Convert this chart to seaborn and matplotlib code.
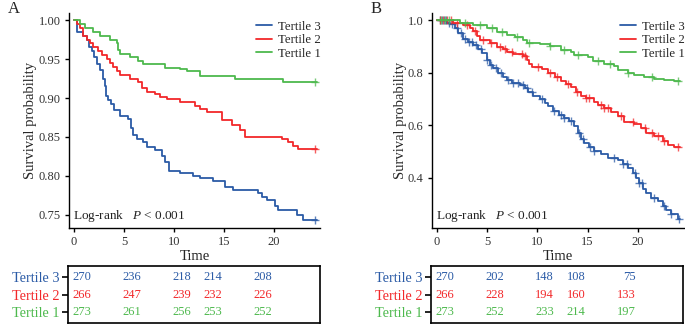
import numpy as np
import pandas as pd
import matplotlib.pyplot as plt
import seaborn as sns

# colours of the three tertiles
c3 = '#2B5BA6'
c2 = '#F2282A'
c1 = '#4DB94D'

# ---- panel A: step curves (time, survival) ----
a3_t = [0, 0.3, 0.9, 1.3, 1.5, 1.8, 2.0, 2.3, 2.6, 2.9, 3.1, 3.2, 3.4, 3.7, 4.0, 4.6, 5.4, 5.7, 5.9, 6.3,
        6.9, 7.3, 8.1, 8.8, 9.1, 9.5, 10.6, 11.9, 12.6, 13.9, 15.1, 15.9, 18.4, 18.8, 19.3, 20.1, 20.4,
        22.3, 22.9, 24.3]
a3_s = [1.0, 0.985, 0.98, 0.975, 0.965, 0.96, 0.953, 0.943, 0.936, 0.925, 0.915, 0.903, 0.898, 0.892,
        0.885, 0.877, 0.873, 0.862, 0.852, 0.848, 0.843, 0.837, 0.833, 0.826, 0.818, 0.807, 0.804, 0.800,
        0.797, 0.794, 0.786, 0.782, 0.778, 0.773, 0.769, 0.762, 0.756, 0.750, 0.743, 0.743]
a2_t = [0, 0.3, 0.6, 0.9, 1.3, 1.6, 1.9, 2.4, 2.8, 3.3, 3.6, 3.9, 4.3, 4.6, 5.6, 6.4, 6.8, 7.3, 8.1, 8.6,
        9.3, 10.6, 12.1, 12.6, 13.3, 14.8, 15.8, 16.6, 17.1, 20.8, 21.4, 21.9, 22.4, 24.3]
a2_s = [1.0, 0.995, 0.99, 0.98, 0.975, 0.97, 0.965, 0.96, 0.955, 0.95, 0.945, 0.94, 0.935, 0.929, 0.925,
        0.920, 0.913, 0.908, 0.905, 0.901, 0.899, 0.895, 0.890, 0.886, 0.882, 0.872, 0.865, 0.859, 0.850,
        0.847, 0.843, 0.838, 0.835, 0.835]
a1_t = [0, 0.6, 1.1, 1.9, 2.6, 3.6, 4.3, 4.4, 4.6, 5.6, 6.4, 6.9, 9.1, 10.6, 11.3, 12.6, 16.1, 20.9, 24.3]
a1_s = [1.0, 0.995, 0.99, 0.985, 0.98, 0.975, 0.970, 0.962, 0.957, 0.953, 0.948, 0.943, 0.939, 0.937,
        0.934, 0.928, 0.925, 0.920, 0.920]
a3_cens = [24.1]
a2_cens = [24.1]
a1_cens = [24.1]

# ---- panel B ----
b3_t = [0, 1.0, 1.3, 1.8, 2.1, 2.6, 3.1, 3.6, 4.1, 4.5, 5.0, 5.3, 5.6, 6.1, 6.6, 7.0, 7.5, 8.3, 8.8, 9.1,
        9.6, 10.3, 10.8, 11.1, 11.6, 12.1, 12.6, 13.1, 13.6, 14.0, 14.3, 14.6, 15.1, 15.6, 16.3, 17.0,
        18.0, 18.5, 19.0, 19.5, 19.8, 20.1, 20.5, 20.8, 21.3, 22.0, 22.5, 22.8, 23.3, 24.0, 24.2]
b3_s = [1.0, 0.99, 0.985, 0.97, 0.95, 0.93, 0.917, 0.905, 0.892, 0.874, 0.85, 0.83, 0.817, 0.80, 0.785,
        0.772, 0.762, 0.753, 0.741, 0.728, 0.71, 0.70, 0.685, 0.672, 0.655, 0.64, 0.627, 0.615, 0.596,
        0.572, 0.55, 0.533, 0.518, 0.501, 0.49, 0.477, 0.468, 0.455, 0.438, 0.42, 0.40, 0.381, 0.36,
        0.343, 0.325, 0.312, 0.295, 0.278, 0.265, 0.243, 0.243]
b2_t = [0, 1.6, 2.6, 3.3, 3.6, 4.0, 4.3, 5.3, 6.0, 6.6, 7.0, 7.6, 8.6, 9.0, 9.2, 9.5, 10.5, 11.1, 11.8,
        12.3, 12.8, 13.3, 13.8, 14.3, 14.8, 15.6, 16.0, 16.6, 17.3, 18.0, 18.6, 19.6, 20.3, 20.8, 21.6,
        22.5, 23.0, 23.6, 24.2]
b2_s = [1.0, 0.99, 0.981, 0.97, 0.96, 0.94, 0.924, 0.914, 0.899, 0.89, 0.88, 0.872, 0.865, 0.85, 0.835,
        0.823, 0.815, 0.80, 0.785, 0.77, 0.758, 0.745, 0.728, 0.713, 0.703, 0.69, 0.677, 0.665, 0.652,
        0.635, 0.612, 0.605, 0.59, 0.572, 0.558, 0.54, 0.526, 0.517, 0.517]
b1_t = [0, 2.3, 3.6, 5.0, 6.0, 7.0, 7.8, 8.6, 9.0, 10.3, 11.3, 12.3, 13.3, 13.6, 15.0, 15.5, 16.6, 17.6,
        18.0, 19.0, 19.6, 20.6, 21.6, 22.6, 23.6, 24.2]
b1_s = [1.0, 0.99, 0.98, 0.97, 0.956, 0.945, 0.935, 0.925, 0.914, 0.91, 0.903, 0.888, 0.878, 0.867,
        0.86, 0.845, 0.833, 0.825, 0.81, 0.80, 0.79, 0.782, 0.776, 0.771, 0.767, 0.767]
b3_cens = [0.3, 0.5, 0.7, 0.9, 1.2, 1.5, 2.0, 2.4, 2.8, 3.2, 3.5, 3.9, 4.4, 5.0, 5.4, 5.9, 6.4, 7.1, 7.6,
           8.1, 8.6, 9.0, 9.5, 10.5, 11.7, 12.3, 12.6, 13.3, 14.1, 14.5, 15.2, 15.6, 17.6, 18.5, 18.9,
           19.7, 20.1, 20.4, 21.6, 22.6, 23.3, 24.1]
b2_cens = [0.3, 0.6, 1.0, 1.4, 2.0, 3.0, 3.8, 4.6, 5.4, 6.3, 6.8, 7.5, 8.5, 8.8, 10.1, 11.3, 12.0, 13.0,
           13.9, 14.8, 15.1, 16.3, 16.6, 17.0, 18.3, 19.5, 20.7, 21.4, 22.0, 22.6, 24.0]
b1_cens = [0.4, 0.8, 1.2, 2.8, 4.3, 5.5, 6.5, 8.0, 9.2, 11.3, 12.6, 14.0, 16.0, 17.2, 19.0, 21.4, 24.0]

# ---- numbers at risk ----
risk_times = [0, 5, 10, 15, 20]
risk_a = {'Tertile 3': [270, 236, 218, 214, 208],
          'Tertile 2': [266, 247, 239, 232, 226],
          'Tertile 1': [273, 261, 256, 253, 252]}
risk_b = {'Tertile 3': [270, 202, 148, 108, 75],
          'Tertile 2': [266, 228, 194, 160, 133],
          'Tertile 1': [273, 252, 233, 214, 197]}

sns.set_style('ticks')
plt.rcParams['font.family'] = ['Liberation Serif', 'DejaVu Serif']
plt.rcParams['mathtext.fontset'] = 'custom'
plt.rcParams['mathtext.it'] = 'Liberation Serif:italic'

W, H = 685, 326
fig = plt.figure(figsize=(W / 100, H / 100), dpi=100)


def px(l, t, r, b):
    return [l / W, 1 - b / H, (r - l) / W, (b - t) / H]


def surv_at(ts, ss, c):
    i = np.searchsorted(ts, c, side='right') - 1
    return ss[i]


def km_panel(ax, curves, ylim, yticks, yfmt):
    for lab, ts, ss, cens, col in curves:
        df = pd.DataFrame({'time': ts, 'surv': ss})
        sns.lineplot(data=df, x='time', y='surv', ax=ax, color=col, lw=1.3,
                     drawstyle='steps-post', estimator=None, sort=False, label=lab)
        cy = [surv_at(ts, ss, c) for c in cens]
        ax.plot(cens, cy, ls='none', marker='+', ms=6, mew=1.0, color=col, alpha=0.75)
    ax.set_xlim(-0.5, 24.6)
    ax.set_ylim(*ylim)
    ax.set_xticks(risk_times)
    ax.set_yticks(yticks)
    ax.set_yticklabels([yfmt.format(v) for v in yticks])
    sns.despine(ax=ax)
    for s in ['left', 'bottom']:
        ax.spines[s].set_linewidth(1.0)
        ax.spines[s].set_color('black')
    ax.tick_params(direction='out', length=3, width=1.0, labelsize=9, colors='black', pad=3)
    for lbl in ax.get_xticklabels() + ax.get_yticklabels():
        lbl.set_color('#333333')
    ax.set_xlabel('Time', fontsize=10.5, labelpad=1)
    ax.set_ylabel('Survival probability', fontsize=10.5, labelpad=1)
    h, l = ax.get_legend_handles_labels()
    ax.legend(h, l, loc='upper right', bbox_to_anchor=(1.035, 1.0), frameon=False, fontsize=9.3,
              handlelength=1.2, handletextpad=0.5, labelspacing=0.12, borderaxespad=0.2)
    ax.text(0.015, 0.055, 'Log-rank   $P$ < 0.001', transform=ax.transAxes, fontsize=9.5,
            color='#222222', va='center', ha='left')


def risk_table(ax, xlim, risk):
    names = ['Tertile 3', 'Tertile 2', 'Tertile 1']
    cols = [c3, c2, c1]
    aligns = ['left', 'left', 'left', 'right', 'right']
    for k, (name, col) in enumerate(zip(names, cols)):
        yy = 3 - k
        for j, (t, n) in enumerate(zip(risk_times, risk[name])):
            xt = t if aligns[j] == 'left' else t + 0.05
            ax.text(xt, yy, str(n), color=col, fontsize=9, ha=aligns[j], va='center')
    ax.set_xlim(*xlim)
    ax.set_ylim(0.38, 3.62)
    ax.set_xticks([])
    ax.set_yticks([3, 2, 1])
    ax.set_yticklabels(names, fontsize=10.3)
    ax.tick_params(axis='y', direction='out', length=4, width=1.2, pad=2, colors='black')
    for lbl, col in zip(ax.get_yticklabels(), cols):
        lbl.set_color(col)
    for s in ax.spines.values():
        s.set_visible(True)
        s.set_linewidth(1.2)
        s.set_color('black')


axA = fig.add_axes(px(69, 13, 320, 228))
km_panel(axA, [('Tertile 3', a3_t, a3_s, a3_cens, c3),
               ('Tertile 2', a2_t, a2_s, a2_cens, c2),
               ('Tertile 1', a1_t, a1_s, a1_cens, c1)],
         (0.7333, 1.009), [0.75, 0.80, 0.85, 0.90, 0.95, 1.00], '{:.2f}')

axB = fig.add_axes(px(432, 13, 684, 228))
km_panel(axB, [('Tertile 3', b3_t, b3_s, b3_cens, c3),
               ('Tertile 2', b2_t, b2_s, b2_cens, c2),
               ('Tertile 1', b1_t, b1_s, b1_cens, c1)],
         (0.21, 1.027), [0.4, 0.6, 0.8, 1.0], '{:.1f}')

tA = fig.add_axes(px(68, 266, 320, 323))
risk_table(tA, (-0.4, 24.8), risk_a)
tB = fig.add_axes(px(431, 266, 683, 323))
risk_table(tB, (-0.4, 24.8), risk_b)

fig.text(8 / W, 1 - 9 / H, 'A', fontsize=12, va='center', ha='left')
fig.text(371 / W, 1 - 9 / H, 'B', fontsize=12, va='center', ha='left')

fig.savefig('out.png', dpi=100)
